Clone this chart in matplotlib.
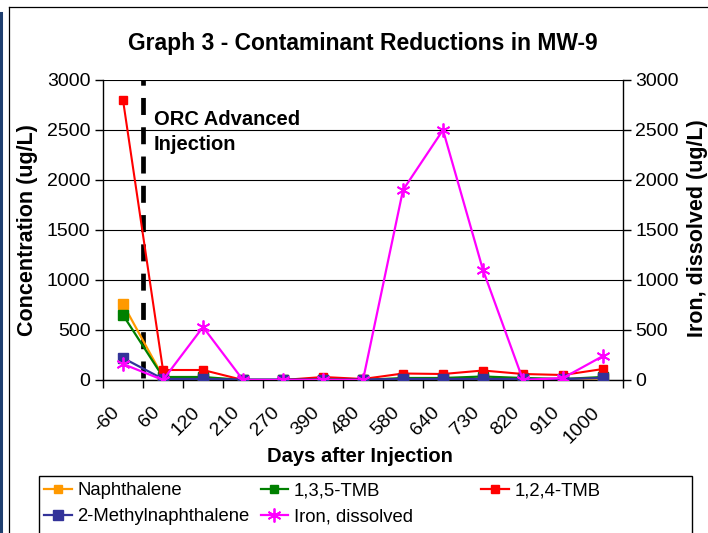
import matplotlib

matplotlib.use("Agg")
import matplotlib.pyplot as plt
import matplotlib.lines as mlines
import matplotlib.patches as mpatches
import numpy as np

plt.rcParams["font.family"] = ["Liberation Sans", "DejaVu Sans"]

# ── data ─────────────────────────────────────────────────────────────────────
days = ["-60", "60", "120", "210", "270", "390", "480", "580", "640", "730", "820", "910", "1000"]
naphthalene = [760, 30, 20, 0, 0, 5, 0, 10, 10, 10, 10, 5, 15]
tmb_135 = [650, 30, 30, 0, 0, 5, 0, 20, 20, 35, 20, 10, 30]
tmb_124 = [2800, 100, 100, 0, 0, 30, 10, 65, 60, 95, 60, 50, 110]
methylnaph = [220, 10, 10, 5, 5, 5, 5, 10, 10, 10, 10, 10, 20]
iron = [160, 0, 530, 0, 0, 0, 0, 1900, 2500, 1100, 0, 20, 240]

W, H = 708, 533
fig = plt.figure(figsize=(W / 100, H / 100), dpi=100)
fig.patch.set_facecolor("white")


def fx(px):
    return px / W


def fy(py):
    return 1 - py / H


ax = fig.add_axes([fx(103), fy(380), fx(623) - fx(103), fy(80) - fy(380)])
x = np.arange(len(days))

ax.plot(x, naphthalene, color="#FF9900", lw=1.6, marker="s", ms=6.5, zorder=3)
ax.plot(x, tmb_135, color="#008000", lw=1.6, marker="s", ms=6.5, zorder=3)
ax.plot(x, tmb_124, color="#FF0000", lw=1.5, marker="s", ms=5.5, zorder=3)
ax.plot(x, methylnaph, color="#333399", lw=1.6, marker="s", ms=7.5, zorder=3)

# ORC injection marker line between first two sampling events
ax.plot([0.5, 0.5], [3000, 0], color="black", lw=3.4, linestyle=(2.5, (3.6, 2.6)),
        solid_capstyle="butt", dash_capstyle="butt", zorder=2)
ax.text(0.775, 2550, "ORC Advanced", fontsize=14.5, fontweight="bold", va="baseline", ha="left")
ax.text(0.775, 2300, "Injection", fontsize=14.5, fontweight="bold", va="baseline", ha="left")

ax.set_xlim(-0.5, len(days) - 0.5)
ax.set_ylim(0, 3000)
ax.set_yticks(np.arange(0, 3001, 500))
ax.tick_params(axis="y", direction="out", length=6, width=1, labelsize=14, pad=3)
ax.set_xticks(x)
ax.set_xticklabels(days, rotation=45, ha="right", va="top", fontsize=14)
ax.tick_params(axis="x", which="major", length=0, pad=17)
ax.set_xticks(np.arange(-0.5, len(days)), minor=True)
ax.tick_params(axis="x", which="minor", direction="out", length=6, width=1)
ax.grid(True, axis="y", color="black", lw=0.8)
ax.set_axisbelow(True)
for side in ("top", "right"):
    ax.spines[side].set_visible(False)
for side in ("left", "bottom"):
    ax.spines[side].set_linewidth(1)

ax2 = ax.twinx()
ax2.plot(x, iron, color="#FF00FF", lw=1.6, marker=(6, 2, 0), ms=10, mew=1.3, zorder=4)
ax2.set_ylim(0, 3000)
ax2.set_yticks(np.arange(0, 3001, 500))
ax2.tick_params(axis="y", direction="out", length=6, width=1, labelsize=14, pad=3)
for side in ("top", "left", "bottom"):
    ax2.spines[side].set_visible(False)
ax2.spines["right"].set_linewidth(1)

# titles / axis labels
fig.text(fx(363), fy(50), "Graph 3 - Contaminant Reductions in MW-9", fontsize=16.5,
         fontweight="bold", ha="center", va="baseline")
fig.text(fx(28), fy(230), "Concentration (ug/L)", fontsize=15.5, fontweight="bold",
         rotation=90, ha="center", va="center")
fig.text(fx(698), fy(228), "Iron, dissolved (ug/L)", fontsize=15.5, fontweight="bold",
         rotation=90, ha="center", va="center")
fig.text(fx(360), fy(457), "Days after Injection", fontsize=14.5, fontweight="bold",
         ha="center", va="center")

# legend: frame + two frameless legends so the third column sits where Excel put it
h_naph = mlines.Line2D([], [], color="#FF9900", lw=1.6, marker="s", ms=6)
h_135 = mlines.Line2D([], [], color="#008000", lw=1.6, marker="s", ms=6)
h_124 = mlines.Line2D([], [], color="#FF0000", lw=1.6, marker="s", ms=6)
h_mn = mlines.Line2D([], [], color="#333399", lw=1.6, marker="s", ms=7)
h_fe = mlines.Line2D([], [], color="#FF00FF", lw=1.6, marker=(6, 2, 0), ms=10, mew=1.3)

leg_kw = dict(frameon=False, fontsize=13.3, handlelength=1.5, handletextpad=0.3,
              labelspacing=0.5, borderpad=0.0, borderaxespad=0.0)
leg1 = fig.legend([h_naph, h_mn, h_135, h_fe],
                  ["Naphthalene", "2-Methylnaphthalene", "1,3,5-TMB", "Iron, dissolved"],
                  ncol=2, columnspacing=0.6, loc="upper left",
                  bbox_to_anchor=(fx(44), fy(482)), **leg_kw)
leg2 = fig.legend([h_124], ["1,2,4-TMB"], loc="upper left",
                  bbox_to_anchor=(fx(481), fy(482)), **leg_kw)
fig.add_artist(mpatches.Rectangle((fx(39), fy(540)), fx(692) - fx(39), fy(476) - fy(540),
                                  transform=fig.transFigure, fill=False, ec="black", lw=1))

# chart-area border
fig.add_artist(mlines.Line2D([fx(9), fx(9)], [fy(7), 0], transform=fig.transFigure, color="black", lw=0.9))
fig.add_artist(mlines.Line2D([fx(9), 1], [fy(7), fy(7)], transform=fig.transFigure, color="black", lw=0.9))
fig.add_artist(mlines.Line2D([fx(1), fx(1)], [fy(13), 0], transform=fig.transFigure, color="#1F3F6F", lw=2.2))

fig.savefig("out.png", dpi=100, facecolor="white")
